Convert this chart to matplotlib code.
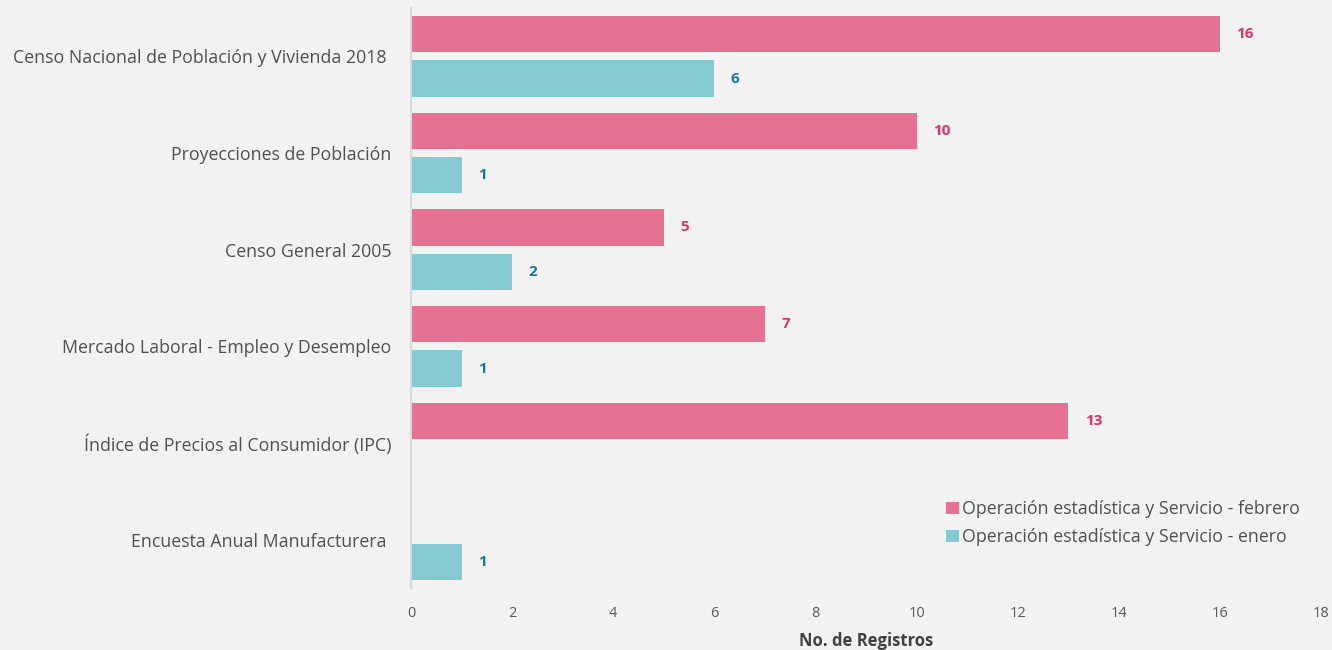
import matplotlib.pyplot as plt
import numpy as np

plt.rcParams['font.family'] = ['Open Sans', 'DejaVu Sans']

categories = [
    "Censo Nacional de Población y Vivienda 2018 ",
    "Proyecciones de Población",
    "Censo General 2005",
    "Mercado Laboral - Empleo y Desempleo",
    "Índice de Precios al Consumidor (IPC)",
    "Encuesta Anual Manufacturera ",
]
febrero = [16, 10, 5, 7, 13, 0]
enero = [6, 1, 2, 1, 0, 1]

pink = "#e57293"
teal = "#85cad0"
pink_txt = "#e0336a"
teal_txt = "#1479a0"
bg = "#f2f2f2"

fig = plt.figure(figsize=(13.32, 6.5), dpi=100, facecolor=bg)
ax = fig.add_axes([411 / 1332, 1 - 588 / 650, 910 / 1332, 580 / 650], facecolor=bg)

y = np.arange(len(categories))
off = 0.23
h = 0.375

ax.barh(y - off, febrero, height=h, color=pink, label="Operación estadística y Servicio - febrero")
ax.barh(y + off, enero, height=h, color=teal, label="Operación estadística y Servicio - enero")

for yy, v in zip(y, febrero):
    if v:
        ax.annotate(str(v), (v, yy - off), xytext=(12, 0), textcoords="offset points",
                    va="center", ha="left", fontsize=11, fontweight="bold", color=pink_txt)
for yy, v in zip(y, enero):
    if v:
        ax.annotate(str(v), (v, yy + off), xytext=(12, 0), textcoords="offset points",
                    va="center", ha="left", fontsize=11, fontweight="bold", color=teal_txt)

ax.set_xlim(0, 18)
ax.set_ylim(len(categories) - 0.5, -0.5)
ax.set_xticks(range(0, 19, 2))
ax.set_yticks(y)
ax.set_yticklabels(categories, fontsize=12.8, color="#505050")
ax.tick_params(axis="x", length=0, labelsize=10.5, labelcolor="#595959", pad=13)
ax.tick_params(axis="y", length=0, pad=14)

for s in ["top", "right", "bottom"]:
    ax.spines[s].set_visible(False)
ax.spines["left"].set_color("#d9d9d9")
ax.spines["left"].set_linewidth(1.5)

ax.set_xlabel("No. de Registros", fontsize=12, fontweight="bold", color="#404040", labelpad=8)

ax.legend(loc="lower right", bbox_to_anchor=(0.985, 0.06), frameon=False, fontsize=12.8,
          handlelength=0.7, handleheight=0.7, handletextpad=0.2, labelspacing=0.55,
          labelcolor="#505050", borderaxespad=0)

fig.savefig("out.png", dpi=100, facecolor=bg)
